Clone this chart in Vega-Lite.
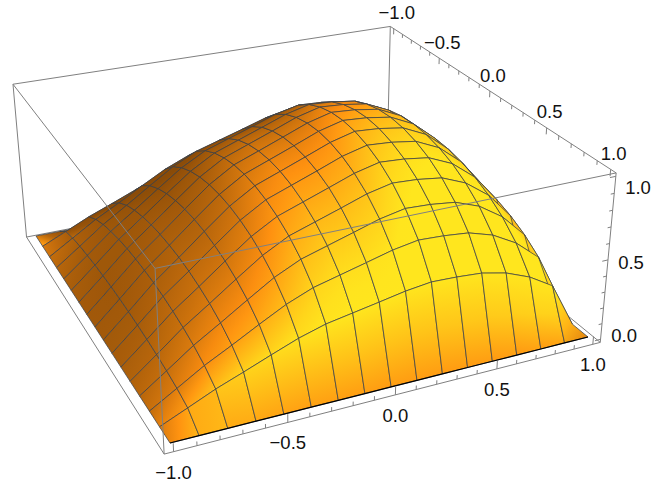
{"$schema":"https://vega.github.io/schema/vega-lite/v6.json","width":666,"height":485,"padding":0,"autosize":{"type":"fit","contains":"padding"},"background":"white","view":{"stroke":null},
"datasets":{
"grid":[
{"id":272,"x":-1,"y":-1,"z":0},{"id":273,"x":-0.875,"y":-1,"z":0},{"id":274,"x":-0.75,"y":-1,"z":0},{"id":275,"x":-0.625,"y":-1,"z":0},{"id":276,"x":-0.5,"y":-1,"z":0},{"id":277,"x":-0.375,"y":-1,"z":0},{"id":278,"x":-0.25,"y":-1,"z":0},{"id":279,"x":-0.125,"y":-1,"z":0},{"id":280,"x":0,"y":-1,"z":0},{"id":281,"x":0.125,"y":-1,"z":0},{"id":282,"x":0.25,"y":-1,"z":0},{"id":283,"x":0.375,"y":-1,"z":0},{"id":284,"x":0.5,"y":-1,"z":0},{"id":285,"x":0.625,"y":-1,"z":0},{"id":286,"x":0.75,"y":-1,"z":0},{"id":287,"x":0.875,"y":-1,"z":0},{"id":288,"x":1,"y":-1,"z":0},
{"id":255,"x":-1,"y":-0.875,"z":0},{"id":256,"x":-0.875,"y":-0.875,"z":0.071},{"id":257,"x":-0.75,"y":-0.875,"z":0.143},{"id":258,"x":-0.625,"y":-0.875,"z":0.204},{"id":259,"x":-0.5,"y":-0.875,"z":0.267},{"id":260,"x":-0.375,"y":-0.875,"z":0.328},{"id":261,"x":-0.25,"y":-0.875,"z":0.375},{"id":262,"x":-0.125,"y":-0.875,"z":0.404},{"id":263,"x":0,"y":-0.875,"z":0.433},{"id":264,"x":0.125,"y":-0.875,"z":0.463},{"id":265,"x":0.25,"y":-0.875,"z":0.483},{"id":266,"x":0.375,"y":-0.875,"z":0.478},{"id":267,"x":0.5,"y":-0.875,"z":0.467},{"id":268,"x":0.625,"y":-0.875,"z":0.433},{"id":269,"x":0.75,"y":-0.875,"z":0.373},{"id":270,"x":0.875,"y":-0.875,"z":0.283},{"id":271,"x":1,"y":-0.875,"z":0},
{"id":238,"x":-1,"y":-0.75,"z":0},{"id":239,"x":-0.875,"y":-0.75,"z":0.097},{"id":240,"x":-0.75,"y":-0.75,"z":0.195},{"id":241,"x":-0.625,"y":-0.75,"z":0.278},{"id":242,"x":-0.5,"y":-0.75,"z":0.365},{"id":243,"x":-0.375,"y":-0.75,"z":0.448},{"id":244,"x":-0.25,"y":-0.75,"z":0.512},{"id":245,"x":-0.125,"y":-0.75,"z":0.552},{"id":246,"x":0,"y":-0.75,"z":0.592},{"id":247,"x":0.125,"y":-0.75,"z":0.633},{"id":248,"x":0.25,"y":-0.75,"z":0.66},{"id":249,"x":0.375,"y":-0.75,"z":0.653},{"id":250,"x":0.5,"y":-0.75,"z":0.638},{"id":251,"x":0.625,"y":-0.75,"z":0.592},{"id":252,"x":0.75,"y":-0.75,"z":0.51},{"id":253,"x":0.875,"y":-0.75,"z":0.387},{"id":254,"x":1,"y":-0.75,"z":0},
{"id":221,"x":-1,"y":-0.625,"z":0},{"id":222,"x":-0.875,"y":-0.625,"z":0.114},{"id":223,"x":-0.75,"y":-0.625,"z":0.23},{"id":224,"x":-0.625,"y":-0.625,"z":0.329},{"id":225,"x":-0.5,"y":-0.625,"z":0.431},{"id":226,"x":-0.375,"y":-0.625,"z":0.53},{"id":227,"x":-0.25,"y":-0.625,"z":0.605},{"id":228,"x":-0.125,"y":-0.625,"z":0.652},{"id":229,"x":0,"y":-0.625,"z":0.699},{"id":230,"x":0.125,"y":-0.625,"z":0.747},{"id":231,"x":0.25,"y":-0.625,"z":0.779},{"id":232,"x":0.375,"y":-0.625,"z":0.772},{"id":233,"x":0.5,"y":-0.625,"z":0.754},{"id":234,"x":0.625,"y":-0.625,"z":0.699},{"id":235,"x":0.75,"y":-0.625,"z":0.602},{"id":236,"x":0.875,"y":-0.625,"z":0.457},{"id":237,"x":1,"y":-0.625,"z":0},
{"id":204,"x":-1,"y":-0.5,"z":0},{"id":205,"x":-0.875,"y":-0.5,"z":0.126},{"id":206,"x":-0.75,"y":-0.5,"z":0.255},{"id":207,"x":-0.625,"y":-0.5,"z":0.365},{"id":208,"x":-0.5,"y":-0.5,"z":0.478},{"id":209,"x":-0.375,"y":-0.5,"z":0.587},{"id":210,"x":-0.25,"y":-0.5,"z":0.671},{"id":211,"x":-0.125,"y":-0.5,"z":0.723},{"id":212,"x":0,"y":-0.5,"z":0.775},{"id":213,"x":0.125,"y":-0.5,"z":0.829},{"id":214,"x":0.25,"y":-0.5,"z":0.864},{"id":215,"x":0.375,"y":-0.5,"z":0.856},{"id":216,"x":0.5,"y":-0.5,"z":0.836},{"id":217,"x":0.625,"y":-0.5,"z":0.775},{"id":218,"x":0.75,"y":-0.5,"z":0.668},{"id":219,"x":0.875,"y":-0.5,"z":0.507},{"id":220,"x":1,"y":-0.5,"z":0},
{"id":187,"x":-1,"y":-0.375,"z":0},{"id":188,"x":-0.875,"y":-0.375,"z":0.135},{"id":189,"x":-0.75,"y":-0.375,"z":0.273},{"id":190,"x":-0.625,"y":-0.375,"z":0.39},{"id":191,"x":-0.5,"y":-0.375,"z":0.512},{"id":192,"x":-0.375,"y":-0.375,"z":0.628},{"id":193,"x":-0.25,"y":-0.375,"z":0.718},{"id":194,"x":-0.125,"y":-0.375,"z":0.774},{"id":195,"x":0,"y":-0.375,"z":0.83},{"id":196,"x":0.125,"y":-0.375,"z":0.887},{"id":197,"x":0.25,"y":-0.375,"z":0.925},{"id":198,"x":0.375,"y":-0.375,"z":0.916},{"id":199,"x":0.5,"y":-0.375,"z":0.895},{"id":200,"x":0.625,"y":-0.375,"z":0.83},{"id":201,"x":0.75,"y":-0.375,"z":0.715},{"id":202,"x":0.875,"y":-0.375,"z":0.542},{"id":203,"x":1,"y":-0.375,"z":0},
{"id":170,"x":-1,"y":-0.25,"z":0},{"id":171,"x":-0.875,"y":-0.25,"z":0.141},{"id":172,"x":-0.75,"y":-0.25,"z":0.286},{"id":173,"x":-0.625,"y":-0.25,"z":0.408},{"id":174,"x":-0.5,"y":-0.25,"z":0.534},{"id":175,"x":-0.375,"y":-0.25,"z":0.656},{"id":176,"x":-0.25,"y":-0.25,"z":0.75},{"id":177,"x":-0.125,"y":-0.25,"z":0.808},{"id":178,"x":0,"y":-0.25,"z":0.866},{"id":179,"x":0.125,"y":-0.25,"z":0.926},{"id":180,"x":0.25,"y":-0.25,"z":0.966},{"id":181,"x":0.375,"y":-0.25,"z":0.956},{"id":182,"x":0.5,"y":-0.25,"z":0.934},{"id":183,"x":0.625,"y":-0.25,"z":0.866},{"id":184,"x":0.75,"y":-0.25,"z":0.746},{"id":185,"x":0.875,"y":-0.25,"z":0.566},{"id":186,"x":1,"y":-0.25,"z":0},
{"id":153,"x":-1,"y":-0.125,"z":0},{"id":154,"x":-0.875,"y":-0.125,"z":0.145},{"id":155,"x":-0.75,"y":-0.125,"z":0.293},{"id":156,"x":-0.625,"y":-0.125,"z":0.418},{"id":157,"x":-0.5,"y":-0.125,"z":0.548},{"id":158,"x":-0.375,"y":-0.125,"z":0.673},{"id":159,"x":-0.25,"y":-0.125,"z":0.769},{"id":160,"x":-0.125,"y":-0.125,"z":0.828},{"id":161,"x":0,"y":-0.125,"z":0.888},{"id":162,"x":0.125,"y":-0.125,"z":0.949},{"id":163,"x":0.25,"y":-0.125,"z":0.99},{"id":164,"x":0.375,"y":-0.125,"z":0.98},{"id":165,"x":0.5,"y":-0.125,"z":0.957},{"id":166,"x":0.625,"y":-0.125,"z":0.888},{"id":167,"x":0.75,"y":-0.125,"z":0.765},{"id":168,"x":0.875,"y":-0.125,"z":0.58},{"id":169,"x":1,"y":-0.125,"z":0},
{"id":136,"x":-1,"y":0,"z":0},{"id":137,"x":-0.875,"y":0,"z":0.146},{"id":138,"x":-0.75,"y":0,"z":0.295},{"id":139,"x":-0.625,"y":0,"z":0.421},{"id":140,"x":-0.5,"y":0,"z":0.552},{"id":141,"x":-0.375,"y":0,"z":0.678},{"id":142,"x":-0.25,"y":0,"z":0.775},{"id":143,"x":-0.125,"y":0,"z":0.835},{"id":144,"x":0,"y":0,"z":0.895},{"id":145,"x":0.125,"y":0,"z":0.957},{"id":146,"x":0.25,"y":0,"z":0.998},{"id":147,"x":0.375,"y":0,"z":0.988},{"id":148,"x":0.5,"y":0,"z":0.965},{"id":149,"x":0.625,"y":0,"z":0.895},{"id":150,"x":0.75,"y":0,"z":0.771},{"id":151,"x":0.875,"y":0,"z":0.585},{"id":152,"x":1,"y":0,"z":0},
{"id":119,"x":-1,"y":0.125,"z":0},{"id":120,"x":-0.875,"y":0.125,"z":0.145},{"id":121,"x":-0.75,"y":0.125,"z":0.293},{"id":122,"x":-0.625,"y":0.125,"z":0.418},{"id":123,"x":-0.5,"y":0.125,"z":0.548},{"id":124,"x":-0.375,"y":0.125,"z":0.673},{"id":125,"x":-0.25,"y":0.125,"z":0.769},{"id":126,"x":-0.125,"y":0.125,"z":0.828},{"id":127,"x":0,"y":0.125,"z":0.888},{"id":128,"x":0.125,"y":0.125,"z":0.949},{"id":129,"x":0.25,"y":0.125,"z":0.99},{"id":130,"x":0.375,"y":0.125,"z":0.98},{"id":131,"x":0.5,"y":0.125,"z":0.957},{"id":132,"x":0.625,"y":0.125,"z":0.888},{"id":133,"x":0.75,"y":0.125,"z":0.765},{"id":134,"x":0.875,"y":0.125,"z":0.58},{"id":135,"x":1,"y":0.125,"z":0},
{"id":102,"x":-1,"y":0.25,"z":0},{"id":103,"x":-0.875,"y":0.25,"z":0.141},{"id":104,"x":-0.75,"y":0.25,"z":0.286},{"id":105,"x":-0.625,"y":0.25,"z":0.408},{"id":106,"x":-0.5,"y":0.25,"z":0.534},{"id":107,"x":-0.375,"y":0.25,"z":0.656},{"id":108,"x":-0.25,"y":0.25,"z":0.75},{"id":109,"x":-0.125,"y":0.25,"z":0.808},{"id":110,"x":0,"y":0.25,"z":0.866},{"id":111,"x":0.125,"y":0.25,"z":0.926},{"id":112,"x":0.25,"y":0.25,"z":0.966},{"id":113,"x":0.375,"y":0.25,"z":0.956},{"id":114,"x":0.5,"y":0.25,"z":0.934},{"id":115,"x":0.625,"y":0.25,"z":0.866},{"id":116,"x":0.75,"y":0.25,"z":0.746},{"id":117,"x":0.875,"y":0.25,"z":0.566},{"id":118,"x":1,"y":0.25,"z":0},
{"id":85,"x":-1,"y":0.375,"z":0},{"id":86,"x":-0.875,"y":0.375,"z":0.135},{"id":87,"x":-0.75,"y":0.375,"z":0.273},{"id":88,"x":-0.625,"y":0.375,"z":0.39},{"id":89,"x":-0.5,"y":0.375,"z":0.512},{"id":90,"x":-0.375,"y":0.375,"z":0.628},{"id":91,"x":-0.25,"y":0.375,"z":0.718},{"id":92,"x":-0.125,"y":0.375,"z":0.774},{"id":93,"x":0,"y":0.375,"z":0.83},{"id":94,"x":0.125,"y":0.375,"z":0.887},{"id":95,"x":0.25,"y":0.375,"z":0.925},{"id":96,"x":0.375,"y":0.375,"z":0.916},{"id":97,"x":0.5,"y":0.375,"z":0.895},{"id":98,"x":0.625,"y":0.375,"z":0.83},{"id":99,"x":0.75,"y":0.375,"z":0.715},{"id":100,"x":0.875,"y":0.375,"z":0.542},{"id":101,"x":1,"y":0.375,"z":0},
{"id":68,"x":-1,"y":0.5,"z":0},{"id":69,"x":-0.875,"y":0.5,"z":0.126},{"id":70,"x":-0.75,"y":0.5,"z":0.255},{"id":71,"x":-0.625,"y":0.5,"z":0.365},{"id":72,"x":-0.5,"y":0.5,"z":0.478},{"id":73,"x":-0.375,"y":0.5,"z":0.587},{"id":74,"x":-0.25,"y":0.5,"z":0.671},{"id":75,"x":-0.125,"y":0.5,"z":0.723},{"id":76,"x":0,"y":0.5,"z":0.775},{"id":77,"x":0.125,"y":0.5,"z":0.829},{"id":78,"x":0.25,"y":0.5,"z":0.864},{"id":79,"x":0.375,"y":0.5,"z":0.856},{"id":80,"x":0.5,"y":0.5,"z":0.836},{"id":81,"x":0.625,"y":0.5,"z":0.775},{"id":82,"x":0.75,"y":0.5,"z":0.668},{"id":83,"x":0.875,"y":0.5,"z":0.507},{"id":84,"x":1,"y":0.5,"z":0},
{"id":51,"x":-1,"y":0.625,"z":0},{"id":52,"x":-0.875,"y":0.625,"z":0.114},{"id":53,"x":-0.75,"y":0.625,"z":0.23},{"id":54,"x":-0.625,"y":0.625,"z":0.329},{"id":55,"x":-0.5,"y":0.625,"z":0.431},{"id":56,"x":-0.375,"y":0.625,"z":0.53},{"id":57,"x":-0.25,"y":0.625,"z":0.605},{"id":58,"x":-0.125,"y":0.625,"z":0.652},{"id":59,"x":0,"y":0.625,"z":0.699},{"id":60,"x":0.125,"y":0.625,"z":0.747},{"id":61,"x":0.25,"y":0.625,"z":0.779},{"id":62,"x":0.375,"y":0.625,"z":0.772},{"id":63,"x":0.5,"y":0.625,"z":0.754},{"id":64,"x":0.625,"y":0.625,"z":0.699},{"id":65,"x":0.75,"y":0.625,"z":0.602},{"id":66,"x":0.875,"y":0.625,"z":0.457},{"id":67,"x":1,"y":0.625,"z":0},
{"id":34,"x":-1,"y":0.75,"z":0},{"id":35,"x":-0.875,"y":0.75,"z":0.097},{"id":36,"x":-0.75,"y":0.75,"z":0.195},{"id":37,"x":-0.625,"y":0.75,"z":0.278},{"id":38,"x":-0.5,"y":0.75,"z":0.365},{"id":39,"x":-0.375,"y":0.75,"z":0.448},{"id":40,"x":-0.25,"y":0.75,"z":0.512},{"id":41,"x":-0.125,"y":0.75,"z":0.552},{"id":42,"x":0,"y":0.75,"z":0.592},{"id":43,"x":0.125,"y":0.75,"z":0.633},{"id":44,"x":0.25,"y":0.75,"z":0.66},{"id":45,"x":0.375,"y":0.75,"z":0.653},{"id":46,"x":0.5,"y":0.75,"z":0.638},{"id":47,"x":0.625,"y":0.75,"z":0.592},{"id":48,"x":0.75,"y":0.75,"z":0.51},{"id":49,"x":0.875,"y":0.75,"z":0.387},{"id":50,"x":1,"y":0.75,"z":0},
{"id":17,"x":-1,"y":0.875,"z":0},{"id":18,"x":-0.875,"y":0.875,"z":0.071},{"id":19,"x":-0.75,"y":0.875,"z":0.143},{"id":20,"x":-0.625,"y":0.875,"z":0.204},{"id":21,"x":-0.5,"y":0.875,"z":0.267},{"id":22,"x":-0.375,"y":0.875,"z":0.328},{"id":23,"x":-0.25,"y":0.875,"z":0.375},{"id":24,"x":-0.125,"y":0.875,"z":0.404},{"id":25,"x":0,"y":0.875,"z":0.433},{"id":26,"x":0.125,"y":0.875,"z":0.463},{"id":27,"x":0.25,"y":0.875,"z":0.483},{"id":28,"x":0.375,"y":0.875,"z":0.478},{"id":29,"x":0.5,"y":0.875,"z":0.467},{"id":30,"x":0.625,"y":0.875,"z":0.433},{"id":31,"x":0.75,"y":0.875,"z":0.373},{"id":32,"x":0.875,"y":0.875,"z":0.283},{"id":33,"x":1,"y":0.875,"z":0},
{"id":0,"x":-1,"y":1,"z":0},{"id":1,"x":-0.875,"y":1,"z":0},{"id":2,"x":-0.75,"y":1,"z":0},{"id":3,"x":-0.625,"y":1,"z":0},{"id":4,"x":-0.5,"y":1,"z":0},{"id":5,"x":-0.375,"y":1,"z":0},{"id":6,"x":-0.25,"y":1,"z":0},{"id":7,"x":-0.125,"y":1,"z":0},{"id":8,"x":0,"y":1,"z":0},{"id":9,"x":0.125,"y":1,"z":0},{"id":10,"x":0.25,"y":1,"z":0},{"id":11,"x":0.375,"y":1,"z":0},{"id":12,"x":0.5,"y":1,"z":0},{"id":13,"x":0.625,"y":1,"z":0},{"id":14,"x":0.75,"y":1,"z":0},{"id":15,"x":0.875,"y":1,"z":0},{"id":16,"x":1,"y":1,"z":0}
],
"hiddenEdges":[
{"x":-1.04,"y":-1.04,"z":-0.02,"x2":1.04,"y2":-1.04,"z2":-0.02},{"x":1.04,"y":1.04,"z":-0.02,"x2":1.04,"y2":-1.04,"z2":-0.02},{"x":1.04,"y":-1.04,"z":-0.02,"x2":1.04,"y2":-1.04,"z2":1.02}
],
"edges":[
{"x":-1.04,"y":1.04,"z":1.02,"x2":1.04,"y2":1.04,"z2":1.02},{"x":-1.04,"y":1.04,"z":1.02,"x2":-1.04,"y2":-1.04,"z2":1.02},{"x":-1.04,"y":-1.04,"z":1.02,"x2":1.04,"y2":-1.04,"z2":1.02},{"x":1.04,"y":-1.04,"z":1.02,"x2":1.04,"y2":1.04,"z2":1.02},{"x":-1.04,"y":1.04,"z":-0.02,"x2":1.04,"y2":1.04,"z2":-0.02},{"x":-1.04,"y":1.04,"z":-0.02,"x2":-1.04,"y2":-1.04,"z2":-0.02},{"x":-1.04,"y":1.04,"z":-0.02,"x2":-1.04,"y2":1.04,"z2":1.02},{"x":-1.04,"y":-1.04,"z":-0.02,"x2":-1.04,"y2":-1.04,"z2":1.02},{"x":1.04,"y":1.04,"z":-0.02,"x2":1.04,"y2":1.04,"z2":1.02},
{"x":-1,"y":1.04,"z":-0.02,"x2":-1,"y2":1.04,"z2":0.03},{"x":-0.9,"y":1.04,"z":-0.02,"x2":-0.9,"y2":1.04,"z2":0.005},{"x":-0.8,"y":1.04,"z":-0.02,"x2":-0.8,"y2":1.04,"z2":0.005},{"x":-0.7,"y":1.04,"z":-0.02,"x2":-0.7,"y2":1.04,"z2":0.005},{"x":-0.6,"y":1.04,"z":-0.02,"x2":-0.6,"y2":1.04,"z2":0.005},{"x":-0.5,"y":1.04,"z":-0.02,"x2":-0.5,"y2":1.04,"z2":0.03},{"x":-0.4,"y":1.04,"z":-0.02,"x2":-0.4,"y2":1.04,"z2":0.005},{"x":-0.3,"y":1.04,"z":-0.02,"x2":-0.3,"y2":1.04,"z2":0.005},{"x":-0.2,"y":1.04,"z":-0.02,"x2":-0.2,"y2":1.04,"z2":0.005},{"x":-0.1,"y":1.04,"z":-0.02,"x2":-0.1,"y2":1.04,"z2":0.005},{"x":0,"y":1.04,"z":-0.02,"x2":0,"y2":1.04,"z2":0.03},{"x":0.1,"y":1.04,"z":-0.02,"x2":0.1,"y2":1.04,"z2":0.005},{"x":0.2,"y":1.04,"z":-0.02,"x2":0.2,"y2":1.04,"z2":0.005},{"x":0.3,"y":1.04,"z":-0.02,"x2":0.3,"y2":1.04,"z2":0.005},{"x":0.4,"y":1.04,"z":-0.02,"x2":0.4,"y2":1.04,"z2":0.005},{"x":0.5,"y":1.04,"z":-0.02,"x2":0.5,"y2":1.04,"z2":0.03},{"x":0.6,"y":1.04,"z":-0.02,"x2":0.6,"y2":1.04,"z2":0.005},{"x":0.7,"y":1.04,"z":-0.02,"x2":0.7,"y2":1.04,"z2":0.005},{"x":0.8,"y":1.04,"z":-0.02,"x2":0.8,"y2":1.04,"z2":0.005},{"x":0.9,"y":1.04,"z":-0.02,"x2":0.9,"y2":1.04,"z2":0.005},{"x":1,"y":1.04,"z":-0.02,"x2":1,"y2":1.04,"z2":0.03},
{"x":1.04,"y":-1,"z":1.02,"x2":1.04,"y2":-1,"z2":0.98},{"x":1.04,"y":-0.9,"z":1.02,"x2":1.04,"y2":-0.9,"z2":0.995},{"x":1.04,"y":-0.8,"z":1.02,"x2":1.04,"y2":-0.8,"z2":0.995},{"x":1.04,"y":-0.7,"z":1.02,"x2":1.04,"y2":-0.7,"z2":0.995},{"x":1.04,"y":-0.6,"z":1.02,"x2":1.04,"y2":-0.6,"z2":0.995},{"x":1.04,"y":-0.5,"z":1.02,"x2":1.04,"y2":-0.5,"z2":0.98},{"x":1.04,"y":-0.4,"z":1.02,"x2":1.04,"y2":-0.4,"z2":0.995},{"x":1.04,"y":-0.3,"z":1.02,"x2":1.04,"y2":-0.3,"z2":0.995},{"x":1.04,"y":-0.2,"z":1.02,"x2":1.04,"y2":-0.2,"z2":0.995},{"x":1.04,"y":-0.1,"z":1.02,"x2":1.04,"y2":-0.1,"z2":0.995},{"x":1.04,"y":0,"z":1.02,"x2":1.04,"y2":0,"z2":0.98},{"x":1.04,"y":0.1,"z":1.02,"x2":1.04,"y2":0.1,"z2":0.995},{"x":1.04,"y":0.2,"z":1.02,"x2":1.04,"y2":0.2,"z2":0.995},{"x":1.04,"y":0.3,"z":1.02,"x2":1.04,"y2":0.3,"z2":0.995},{"x":1.04,"y":0.4,"z":1.02,"x2":1.04,"y2":0.4,"z2":0.995},{"x":1.04,"y":0.5,"z":1.02,"x2":1.04,"y2":0.5,"z2":0.98},{"x":1.04,"y":0.6,"z":1.02,"x2":1.04,"y2":0.6,"z2":0.995},{"x":1.04,"y":0.7,"z":1.02,"x2":1.04,"y2":0.7,"z2":0.995},{"x":1.04,"y":0.8,"z":1.02,"x2":1.04,"y2":0.8,"z2":0.995},{"x":1.04,"y":0.9,"z":1.02,"x2":1.04,"y2":0.9,"z2":0.995},{"x":1.04,"y":1,"z":1.02,"x2":1.04,"y2":1,"z2":0.98},
{"x":1.04,"y":1.04,"z":0,"x2":1.01,"y2":1.04,"z2":0},{"x":1.04,"y":1.04,"z":0.1,"x2":1.022,"y2":1.04,"z2":0.1},{"x":1.04,"y":1.04,"z":0.2,"x2":1.022,"y2":1.04,"z2":0.2},{"x":1.04,"y":1.04,"z":0.3,"x2":1.022,"y2":1.04,"z2":0.3},{"x":1.04,"y":1.04,"z":0.4,"x2":1.022,"y2":1.04,"z2":0.4},{"x":1.04,"y":1.04,"z":0.5,"x2":1.01,"y2":1.04,"z2":0.5},{"x":1.04,"y":1.04,"z":0.6,"x2":1.022,"y2":1.04,"z2":0.6},{"x":1.04,"y":1.04,"z":0.7,"x2":1.022,"y2":1.04,"z2":0.7},{"x":1.04,"y":1.04,"z":0.8,"x2":1.022,"y2":1.04,"z2":0.8},{"x":1.04,"y":1.04,"z":0.9,"x2":1.022,"y2":1.04,"z2":0.9},{"x":1.04,"y":1.04,"z":1,"x2":1.01,"y2":1.04,"z2":1}
]
},
"encoding":{
"x":{"field":"px","type":"quantitative","scale":{"domain":[0,666],"zero":false,"nice":false},"axis":null},
"y":{"field":"py","type":"quantitative","scale":{"domain":[485,0],"zero":false,"nice":false},"axis":null}
},
"layer":[
{"data":{"name":"hiddenEdges"},
"transform":[
{"calculate":"(datum.x+1)/2","as":"s"},{"calculate":"(1-datum.y)/2","as":"t"},{"calculate":"(datum.x2+1)/2","as":"s2"},{"calculate":"(1-datum.y2)/2","as":"t2"},
{"calculate":"1+0.12314*datum.s+0.27333*datum.t-0.056*datum.z","as":"W"},{"calculate":"1+0.12314*datum.s2+0.27333*datum.t2-0.056*datum.z2","as":"W2"},
{"calculate":"(490.4*datum.s-124.16*datum.t+170-17.36*datum.z)/datum.W","as":"px"},{"calculate":"(-64.5*datum.s-142.5*datum.t+443-192.4*datum.z)/datum.W","as":"py"},
{"calculate":"(490.4*datum.s2-124.16*datum.t2+170-17.36*datum.z2)/datum.W2","as":"px2"},{"calculate":"(-64.5*datum.s2-142.5*datum.t2+443-192.4*datum.z2)/datum.W2","as":"py2"}],
"mark":{"type":"rule","color":"#808080","strokeWidth":1},
"encoding":{"x2":{"field":"px2"},"y2":{"field":"py2"}}},
{"data":{"name":"grid"},
"transform":[
{"calculate":"datum.id%17","as":"i"},{"calculate":"floor(datum.id/17)","as":"j"},
{"calculate":"datum.i<16?datum.id+1:datum.id","as":"idE"},{"calculate":"datum.i>0?datum.id-1:datum.id","as":"idW"},{"calculate":"datum.j<16?datum.id+17:datum.id","as":"idN"},{"calculate":"datum.j>0?datum.id-17:datum.id","as":"idS"},
{"lookup":"idE","from":{"data":{"name":"grid"},"key":"id","fields":["z"]},"as":["zE"]},
{"lookup":"idW","from":{"data":{"name":"grid"},"key":"id","fields":["z"]},"as":["zW"]},
{"lookup":"idN","from":{"data":{"name":"grid"},"key":"id","fields":["z"]},"as":["zN"]},
{"lookup":"idS","from":{"data":{"name":"grid"},"key":"id","fields":["z"]},"as":["zS"]},
{"calculate":"(datum.zE-datum.zW)/((datum.i<16?1:0)+(datum.i>0?1:0))*6.4","as":"p"},
{"calculate":"(datum.zN-datum.zS)/((datum.j<16?1:0)+(datum.j>0?1:0))*6.4*((datum.j==0||datum.j==16)?3:1)","as":"q"},
{"calculate":"(datum.j==0?0.72:1)*(0.6-0.38*datum.p+0.7*datum.q)/sqrt(1+datum.p*datum.p+datum.q*datum.q)","as":"B"},
{"calculate":"(datum.x+1)/2","as":"s"},{"calculate":"(1-datum.y)/2","as":"t"},
{"calculate":"1+0.12314*datum.s+0.27333*datum.t-0.056*datum.z","as":"W"},
{"calculate":"(490.4*datum.s-124.16*datum.t+170-17.36*datum.z)/datum.W","as":"px"},
{"calculate":"(-64.5*datum.s-142.5*datum.t+443-192.4*datum.z)/datum.W","as":"py"},
{"window":[{"op":"lead","field":"B","as":"BA"},{"op":"lead","field":"px","as":"xA"},{"op":"lead","field":"py","as":"yA"}],"groupby":["j"],"sort":[{"field":"i"}]},
{"window":[{"op":"lead","field":"B","as":"BB"},{"op":"lead","field":"px","as":"xB"},{"op":"lead","field":"py","as":"yB"},{"op":"lead","field":"BA","as":"BC"},{"op":"lead","field":"xA","as":"xC"},{"op":"lead","field":"yA","as":"yC"}],"groupby":["i"],"sort":[{"field":"j"}]},
{"filter":"datum.i<16 && datum.j<16"},
{"calculate":"min(datum.px,datum.xA,datum.xB,datum.xC)","as":"minx"},{"calculate":"min(datum.py,datum.yA,datum.yB,datum.yC)","as":"miny"},
{"calculate":"max(0.5,max(datum.px,datum.xA,datum.xB,datum.xC)-datum.minx)","as":"bw"},{"calculate":"max(0.5,max(datum.py,datum.yA,datum.yB,datum.yC)-datum.miny)","as":"bh"},
{"calculate":"(datum.BA+datum.BC-datum.B-datum.BB)/2","as":"gs"},{"calculate":"(datum.BB+datum.BC-datum.B-datum.BA)/2","as":"gt"},
{"calculate":"(datum.xA+datum.xC-datum.px-datum.xB)/2/datum.bw","as":"esx"},{"calculate":"(datum.yA+datum.yC-datum.py-datum.yB)/2/datum.bh","as":"esy"},
{"calculate":"(datum.xB+datum.xC-datum.px-datum.xA)/2/datum.bw","as":"etx"},{"calculate":"(datum.yB+datum.yC-datum.py-datum.yA)/2/datum.bh","as":"ety"},
{"calculate":"datum.esx*datum.ety-datum.esy*datum.etx","as":"det"},
{"calculate":"abs(datum.det)<0.02?0:(datum.gs*datum.ety-datum.gt*datum.esy)/datum.det","as":"gx"},
{"calculate":"abs(datum.det)<0.02?0:(datum.gt*datum.esx-datum.gs*datum.etx)/datum.det","as":"gy"},
{"calculate":"(datum.B+datum.BA+datum.BB+datum.BC)/4","as":"Bc"},
{"calculate":"(abs(datum.gs)+abs(datum.gt))/2+0.001","as":"r"},
{"calculate":"datum.r/(datum.gx*datum.gx+datum.gy*datum.gy+0.000001)","as":"h"},
{"calculate":"((datum.px+datum.xA+datum.xB+datum.xC)/4-datum.minx)/datum.bw","as":"fx"},
{"calculate":"((datum.py+datum.yA+datum.yB+datum.yC)/4-datum.miny)/datum.bh","as":"fy"},
{"calculate":"clamp((datum.Bc-datum.r-0.1)/0.4,0,1)","as":"a0"},{"calculate":"clamp((datum.Bc-datum.r-0.5)/0.35,0,1)","as":"b0"},
{"calculate":"clamp((datum.Bc-0.1)/0.4,0,1)","as":"a1"},{"calculate":"clamp((datum.Bc-0.5)/0.35,0,1)","as":"b1"},
{"calculate":"clamp((datum.Bc+datum.r-0.1)/0.4,0,1)","as":"a2"},{"calculate":"clamp((datum.Bc+datum.r-0.5)/0.35,0,1)","as":"b2"},
{"calculate":"'rgb('+round(138+117*datum.a0)+','+round(75+69*datum.a0+86*datum.b0)+','+round(8+8*datum.a0+14*datum.b0)+')'","as":"c0"},
{"calculate":"'rgb('+round(138+117*datum.a1)+','+round(75+69*datum.a1+86*datum.b1)+','+round(8+8*datum.a1+14*datum.b1)+')'","as":"c1"},
{"calculate":"'rgb('+round(138+117*datum.a2)+','+round(75+69*datum.a2+86*datum.b2)+','+round(8+8*datum.a2+14*datum.b2)+')'","as":"c2"},
{"calculate":"{gradient:'linear',x1:datum.fx-datum.gx*datum.h,y1:datum.fy-datum.gy*datum.h,x2:datum.fx+datum.gx*datum.h,y2:datum.fy+datum.gy*datum.h,stops:[{offset:0,color:datum.c0},{offset:0.5,color:datum.c1},{offset:1,color:datum.c2}]}","as":"grad"},
{"calculate":"[0,1,2,3,4]","as":"c"},{"flatten":["c"]},
{"calculate":"datum.c==1?datum.xA:datum.c==2?datum.xC:datum.c==3?datum.xB:datum.px","as":"px"},
{"calculate":"datum.c==1?datum.yA:datum.c==2?datum.yC:datum.c==3?datum.yB:datum.py","as":"py"}],
"mark":{"type":"line","stroke":"#3c4248","strokeWidth":0.75,"strokeJoin":"round"},
"encoding":{"detail":{"field":"id"},"order":{"field":"c","type":"quantitative"},
"fill":{"field":"grad","type":"nominal","scale":null,"legend":null}}},
{"data":{"name":"grid"},
"transform":[{"filter":"datum.y==1"},{"calculate":"(datum.x+1)/2","as":"s"},{"calculate":"1+0.12314*datum.s","as":"W"},{"calculate":"(490.4*datum.s+170)/datum.W","as":"px"},{"calculate":"(-64.5*datum.s+443)/datum.W","as":"py"}],
"mark":{"type":"line","stroke":"#000000","strokeWidth":1.2},"encoding":{"order":{"field":"id","type":"quantitative"}}},
{"data":{"name":"edges"},
"transform":[
{"calculate":"(datum.x+1)/2","as":"s"},{"calculate":"(1-datum.y)/2","as":"t"},{"calculate":"(datum.x2+1)/2","as":"s2"},{"calculate":"(1-datum.y2)/2","as":"t2"},
{"calculate":"1+0.12314*datum.s+0.27333*datum.t-0.056*datum.z","as":"W"},{"calculate":"1+0.12314*datum.s2+0.27333*datum.t2-0.056*datum.z2","as":"W2"},
{"calculate":"(490.4*datum.s-124.16*datum.t+170-17.36*datum.z)/datum.W","as":"px"},{"calculate":"(-64.5*datum.s-142.5*datum.t+443-192.4*datum.z)/datum.W","as":"py"},
{"calculate":"(490.4*datum.s2-124.16*datum.t2+170-17.36*datum.z2)/datum.W2","as":"px2"},{"calculate":"(-64.5*datum.s2-142.5*datum.t2+443-192.4*datum.z2)/datum.W2","as":"py2"}],
"mark":{"type":"rule","color":"#808080","strokeWidth":1},
"encoding":{"x2":{"field":"px2"},"y2":{"field":"py2"}}},
{"data":{"values":[{"label":"−1.0","x":-1},{"label":"−0.5","x":-0.5},{"label":"0.0","x":0},{"label":"0.5","x":0.5},{"label":"1.0","x":1}]},
"transform":[{"calculate":"(datum.x+1)/2","as":"s"},{"calculate":"1+0.12314*datum.s-0.00547+0.00112","as":"W"},{"calculate":"(490.4*datum.s+2.48+170+0.347)/datum.W","as":"px"},{"calculate":"(-64.5*datum.s+2.85+443+3.85)/datum.W","as":"py"}],
"mark":{"type":"text","font":"Liberation Sans","fontSize":18.5,"color":"#111111","dy":21,"align":"center","baseline":"middle"},"encoding":{"text":{"field":"label"}}},
{"data":{"values":[{"label":"−1.0","y":-1},{"label":"−0.5","y":-0.5},{"label":"0.0","y":0},{"label":"0.5","y":0.5},{"label":"1.0","y":1}]},
"transform":[{"calculate":"(1-datum.y)/2","as":"t"},{"calculate":"1+0.1256+0.27333*datum.t-0.0571","as":"W"},{"calculate":"(500.2-124.16*datum.t+170-17.7)/datum.W","as":"px"},{"calculate":"(-65.79-142.5*datum.t+443-196.2)/datum.W","as":"py"}],
"mark":{"type":"text","font":"Liberation Sans","fontSize":18.5,"color":"#111111","dx":3,"dy":-15.5,"align":"center","baseline":"middle"},"encoding":{"text":{"field":"label"}}},
{"data":{"values":[{"label":"0.0","z":0.04},{"label":"0.5","z":0.5},{"label":"1.0","z":0.948}]},
"transform":[{"calculate":"1.1201-0.056*datum.z","as":"W"},{"calculate":"(672.7-17.36*datum.z)/datum.W","as":"px"},{"calculate":"(380.06-192.4*datum.z)/datum.W","as":"py"}],
"mark":{"type":"text","font":"Liberation Sans","fontSize":18.5,"color":"#111111","dx":23,"dy":3,"align":"center","baseline":"middle"},"encoding":{"text":{"field":"label"}}}
]}
